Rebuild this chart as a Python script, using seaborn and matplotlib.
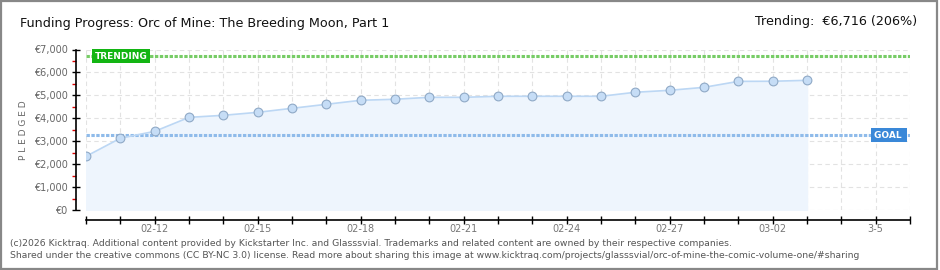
import numpy as np
import pandas as pd
import matplotlib
matplotlib.use("Agg")
import matplotlib.pyplot as plt
import matplotlib.dates as mdates
from matplotlib.ticker import MultipleLocator, FuncFormatter
from matplotlib.patches import Rectangle
import seaborn as sns

# data
dates = pd.date_range("2026-02-10", "2026-03-03", freq="D")
pledged = [2340, 3130, 3430, 4040, 4130, 4260, 4435, 4610, 4785, 4830, 4915,
           4915, 4960, 4960, 4960, 4960, 5135, 5220, 5350, 5610, 5615, 5656]
goal = 3260
trending = 6716
x_start, x_end = pd.Timestamp("2026-02-10"), pd.Timestamp("2026-03-06")
label_dates = ["2026-02-12", "2026-02-15", "2026-02-18", "2026-02-21",
               "2026-02-24", "2026-02-27", "2026-03-02", "2026-03-05"]
label_text = ["02-12", "02-15", "02-18", "02-21", "02-24", "02-27", "03-02", "3-5"]

title = "Funding Progress: Orc of Mine: The Breeding Moon, Part 1"
trend_txt = "Trending:  €6,716 (206%)"
footer = ["(c)2026 Kicktraq. Additional content provided by Kickstarter Inc. and Glasssvial. "
          "Trademarks and related content are owned by their respective companies.",
          "Shared under the creative commons (CC BY-NC 3.0) license. Read more about sharing "
          "this image at www.kicktraq.com/projects/glasssvial/orc-of-mine-the-comic-volume-one/#sharing"]

df = pd.DataFrame({"date": dates, "pledged": pledged})

sns.set_style("white")
plt.rcParams["font.family"] = ["DejaVu Sans"]

fig = plt.figure(figsize=(9.4, 2.7), dpi=100)
ax = fig.add_axes([86 / 940, 60 / 270, 824 / 940, 160.5 / 270])

# fill + line + points
ax.fill_between(df["date"], df["pledged"], 0, color="#eef5fd", zorder=1)
sns.lineplot(data=df, x="date", y="pledged", ax=ax, color="#bcd7f4", lw=1.2,
             marker="o", markersize=6.3, markerfacecolor="#c6ddf6",
             markeredgecolor="#8fa9c6", markeredgewidth=0.8, zorder=4)

# goal / trending lines
ax.axhline(trending, color="#77cc66", lw=2.2, ls=(0, (1.1, 0.5)), zorder=3)
ax.axhline(goal, color="#8fbbea", lw=2.2, ls=(0, (1.1, 0.5)), zorder=3)

ax.set_xlim(x_start, x_end)
ax.set_ylim(0, 7000)

ax.text(x_start + pd.Timedelta(hours=6), trending, "TRENDING", color="white",
        fontsize=6.5, fontweight="bold", va="center", ha="left", zorder=6,
        bbox=dict(boxstyle="square,pad=0.25", fc="#13b513", ec="none"))
ax.text(x_end - pd.Timedelta(hours=4), goal, "GOAL ", color="white",
        fontsize=6.5, fontweight="bold", va="center", ha="right", zorder=6,
        bbox=dict(boxstyle="square,pad=0.25", fc="#3a88d8", ec="none"))

# grid
ax.xaxis.set_major_locator(mdates.DayLocator())
ax.yaxis.set_major_locator(MultipleLocator(1000))
ax.yaxis.set_minor_locator(MultipleLocator(500))
ax.grid(True, which="major", color="#e2e2e2", ls=(0, (4, 3)), lw=0.8)
ax.set_axisbelow(True)

for s in ["top", "right"]:
    ax.spines[s].set_visible(False)
ax.spines["left"].set_position(("outward", 7.2))
ax.spines["bottom"].set_position(("outward", 7.2))
ax.spines["left"].set_color("black")
ax.spines["bottom"].set_color("black")
ax.spines["left"].set_linewidth(1.2)
ax.spines["bottom"].set_linewidth(1.2)

ax.yaxis.set_major_formatter(FuncFormatter(lambda v, p: "€{:,.0f}".format(v)))
ax.tick_params(axis="y", which="major", left=True, direction="inout", length=6,
               width=1, color="black", labelsize=7, labelcolor="#666666", pad=3)
ax.tick_params(axis="y", which="minor", left=True, direction="out", length=3,
               width=1, color="#dd0000")
ax.tick_params(axis="x", which="major", bottom=True, direction="inout", length=6,
               width=1, color="black", labelbottom=False)

for d, t in zip(label_dates, label_text):
    ax.annotate(t, (pd.Timestamp(d), 0), xytext=(0, -10), textcoords="offset points",
                xycoords=("data", "axes fraction"), ha="center", va="top",
                fontsize=7, color="#777777")

ax.set_xlabel("")
ax.set_ylabel("P L E D G E D", fontsize=6.5, color="#666666", labelpad=4)

fig.text(20 / 940, 1 - 24 / 270, title, fontsize=9.2, va="center", ha="left", color="#111111")
fig.text(917 / 940, 1 - 22 / 270, trend_txt, fontsize=9.2, va="center", ha="right", color="#111111")
fig.text(10 / 940, 1 - 243 / 270, footer[0], fontsize=6.7, va="center", color="#555555")
fig.text(10 / 940, 1 - 256 / 270, footer[1], fontsize=6.7, va="center", color="#555555")

fig.patches.append(Rectangle((0.001, 0.003), 0.996, 0.994, transform=fig.transFigure,
                             fill=False, ec="#888888", lw=1.6))

fig.savefig("out.png", dpi=100)
